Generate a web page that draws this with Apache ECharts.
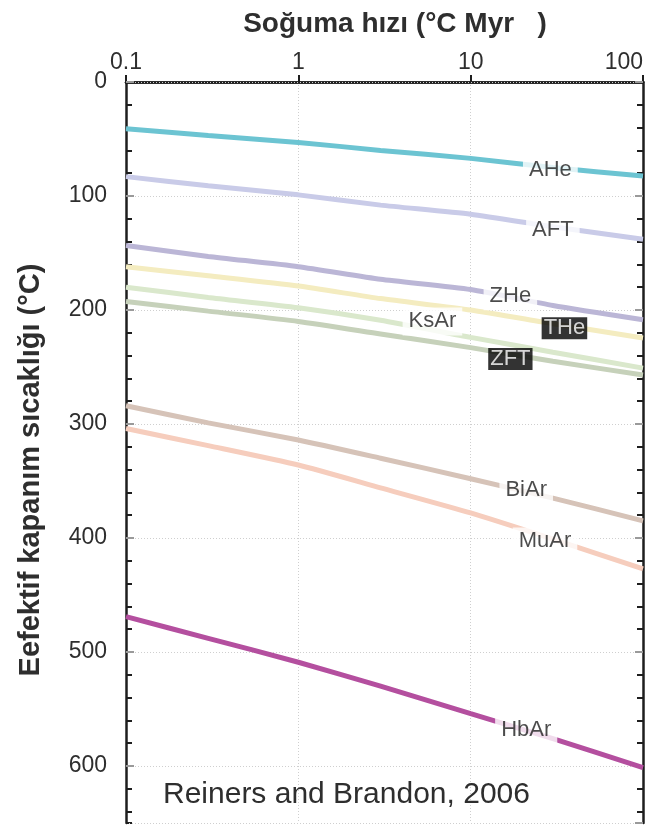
<!DOCTYPE html>
<html><head><meta charset="utf-8">
<script src="https://cdn.jsdelivr.net/npm/echarts@6/dist/echarts.min.js"></script>
<style>html,body{margin:0;padding:0;background:#fff;overflow:hidden}#c{width:654px;height:825px}</style>
</head><body><div id="c"></div>
<script>
// ---- data ----
const xVals = [0.1, 0.3, 1, 3, 10, 30, 100];           // cooling rate (°C/Myr)
const seriesNames = ['AHe', 'AFT', 'ZHe', 'THe', 'KsAr', 'ZFT', 'BiAr', 'MuAr', 'HbAr'];
const AHe  = [41, 47, 53, 60, 67, 75, 82.5];
const AFT  = [83, 91, 99, 108, 116, 127, 138];
const ZHe  = [143.5, 153, 162, 173, 182, 196, 208.5];
const THe  = [162, 170, 179, 190, 200, 212, 224.5];
const KsAr = [180, 189, 198, 209, 224, 237, 251];
const ZFT  = [192.5, 201, 210, 221, 233, 245, 257];
const BiAr = [284, 299, 314, 330, 348, 365, 385];
const MuAr = [304, 319, 336, 356, 378, 401, 427];
const HbAr = [469, 488, 509, 530, 554, 576, 601.5];
const seriesValues = [AHe, AFT, ZHe, THe, KsAr, ZFT, BiAr, MuAr, HbAr];
// in-line label anchors (data coordinates)
const labelNames = ['AHe', 'AFT', 'ZHe', 'THe', 'KsAr', 'ZFT', 'BiAr', 'MuAr', 'HbAr'];
const labelX = [29, 30, 17, 35, 6, 17, 21, 27, 21];
const labelY = [77, 130, 188, 216, 210, 243, 358, 403, 568];
const xTickLabels = ['0.1', '1', '10', '100'];
const yTickLabels = ['0', '100', '200', '300', '400', '500', '600'];
const titleText = 'Soğuma hızı (°C Myr   )';
const yTitleText = 'Eefektif kapanım sıcaklığı (°C)';
const sourceText = 'Reiners and Brandon, 2006';

// ---- styles ----
const colors = ['#6cc4d2', '#c9cbe8', '#bbb6d6', '#f4ecc0', '#dae8cc', '#c6d1ba', '#d6c3b8', '#f6cdbd', '#b44f9f'];
const FONT = '"Liberation Sans", Arial, Helvetica, sans-serif';
const TXT = '#2e2e2e';

const chart = echarts.init(document.getElementById('c'), null, {renderer: 'canvas'});

function yAxisDef(pos, interval, tickColor, tickLen, showLabel, showLine, z) {
  return {
    type: 'value', position: pos, min: 0, max: 650, interval: interval, inverse: true, z: z,
    axisLine: {show: showLine, lineStyle: {color: '#1e1e1e', width: 2.5}},
    axisTick: {show: true, inside: true, length: tickLen, lineStyle: {color: tickColor, width: 2}},
    axisLabel: {
      show: showLabel, margin: 19, fontSize: 23, color: TXT, fontFamily: FONT, showMaxLabel: false,
      formatter: v => (v % 100 === 0 && yTickLabels[v / 100] !== undefined) ? yTickLabels[v / 100] : ''
    },
    splitLine: {show: showLabel, lineStyle: {color: '#cfcfcf', type: [1, 2], width: 1}}
  };
}

const lineSeries = seriesNames.map((n, i) => ({
  name: n, type: 'line', xAxisIndex: 0, yAxisIndex: 0,
  showSymbol: false, symbol: 'none', silent: true, z: 3,
  smooth: 0.2,
  data: xVals.map((x, j) => [x, seriesValues[i][j]]),
  lineStyle: {color: colors[i], width: 5, cap: 'butt'}
}));

const labelSeries = {
  type: 'scatter', xAxisIndex: 0, yAxisIndex: 0, symbolSize: 0, silent: true, z: 6,
  data: labelNames.map((n, i) => {
    const dark = (n === 'THe' || n === 'ZFT');
    return {
      value: [labelX[i], labelY[i]], name: n,
      label: dark ? {backgroundColor: '#000', color: '#fff', padding: [0, 2]} : {}
    };
  }),
  label: {
    show: true, position: 'inside', formatter: '{b}', fontSize: 22, fontFamily: FONT,
    color: '#1e1e1e', backgroundColor: '#fff', padding: [3, 6]
  }
};

chart.setOption({
  animation: false,
  backgroundColor: '#fff',
  grid: {left: 126, right: 11, top: 82, bottom: 2, containLabel: false, outerBoundsMode: 'none'},
  xAxis: [
    {
      type: 'log', logBase: 10, min: 0.1, max: 100, position: 'top', z: 2,
      axisLine: {show: true, lineStyle: {color: '#1e1e1e', width: 2.5}},
      axisTick: {show: false},
      axisLabel: {
        margin: 8, fontSize: 23, color: TXT, fontFamily: FONT, alignMaxLabel: 'right',
        formatter: v => xTickLabels[Math.round(Math.log10(v)) + 1]
      },
      splitLine: {show: true, lineStyle: {color: '#cfcfcf', type: [1, 2], width: 1}}
    },
    {
      type: 'log', logBase: 10, min: 0.1, max: 100, position: 'bottom', z: 2,
      axisLine: {show: true, lineStyle: {color: '#1e1e1e', width: 2.5}},
      axisTick: {show: true, inside: true, length: 7, lineStyle: {color: '#1e1e1e', width: 2}},
      axisLabel: {show: false},
      splitLine: {show: false}
    }
  ],
  yAxis: [
    yAxisDef('left', 100, '#9a9a9a', 8, true, true, 3),
    yAxisDef('left', 20, '#1e1e1e', 6, false, false, 1),
    yAxisDef('right', 20, '#1e1e1e', 6, false, false, 1),
    yAxisDef('right', 100, '#9a9a9a', 8, false, true, 3)
  ],
  graphic: [
    {type: 'text', x: 395, y: 24, style: {
      text: titleText, textAlign: 'center', textVerticalAlign: 'middle',
      font: 'bold 28px ' + FONT, fill: TXT}},
    {type: 'text', x: 31, y: 470, rotation: Math.PI / 2, style: {
      text: yTitleText, textAlign: 'center', textVerticalAlign: 'middle',
      font: 'bold 29px ' + FONT, fill: TXT}},
    {type: 'text', x: 163, y: 795, z: 10, style: {
      text: sourceText, textAlign: 'left', textVerticalAlign: 'middle',
      font: '30px ' + FONT, fill: TXT}}
  ],
  series: lineSeries.concat([labelSeries])
});
</script>
</body></html>
